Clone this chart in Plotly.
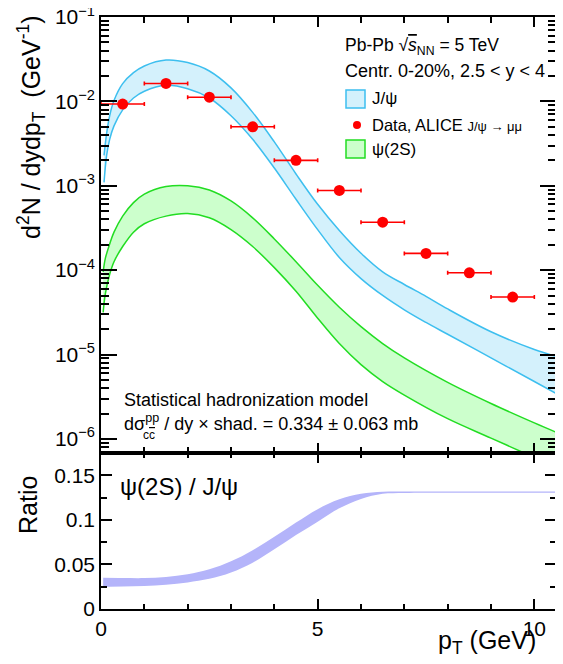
import numpy as np
import plotly.graph_objects as go

# ---------------- data ----------------
# ALICE J/psi data (Pb-Pb 5 TeV, 0-20%, 2.5<y<4)
data_pt = [0.5, 1.5, 2.5, 3.5, 4.5, 5.5, 6.5, 7.5, 8.5, 9.5]
data_pt_err = [0.5, 0.5, 0.5, 0.5, 0.5, 0.5, 0.5, 0.5, 0.5, 0.5]
data_yield = [9.3e-3, 1.63e-2, 1.12e-2, 5.0e-3, 2.0e-3, 8.8e-4, 3.7e-4, 1.58e-4, 9.3e-5, 4.8e-5]

# SHM J/psi band (log10 of dN/dydpT)
jpsi_pt = [0.07, 0.13, 0.2, 0.3, 0.5, 0.75, 1.0, 1.5, 2.0, 2.5, 3.0, 3.5, 4.0, 4.5,
           5.0, 5.5, 6.0, 6.5, 7.0, 7.5, 8.0, 9.0, 10.0, 10.5]
jpsi_hi_log10 = [-2.64, -2.38, -2.17, -1.99, -1.79, -1.66, -1.58, -1.51, -1.54, -1.64,
                 -1.84, -2.13, -2.48, -2.86, -3.22, -3.53, -3.80, -4.02, -4.17, -4.31,
                 -4.46, -4.73, -4.94, -5.02]
jpsi_lo_log10 = [-2.96, -2.64, -2.45, -2.29, -2.10, -1.96, -1.88, -1.81, -1.85, -1.96,
                 -2.17, -2.45, -2.79, -3.16, -3.52, -3.85, -4.10, -4.30, -4.47, -4.62,
                 -4.76, -5.04, -5.32, -5.46]

# SHM psi(2S) band (log10)
psi2s_pt = [0.05, 0.1, 0.2, 0.3, 0.5, 0.75, 1.0, 1.5, 2.0, 2.5, 3.0, 3.5, 4.0, 4.5,
            5.0, 5.5, 6.0, 6.5, 7.0, 8.0, 9.0, 10.0, 10.5]
psi2s_hi_log10 = [-4.02, -3.86, -3.69, -3.55, -3.36, -3.20, -3.10, -3.01, -3.00, -3.05,
                  -3.18, -3.38, -3.63, -3.90, -4.18, -4.44, -4.67, -4.87, -5.04, -5.33,
                  -5.58, -5.81, -5.92]
psi2s_lo_log10 = [-4.50, -4.28, -4.05, -3.90, -3.72, -3.55, -3.45, -3.36, -3.33, -3.38,
                  -3.52, -3.72, -3.97, -4.25, -4.57, -4.87, -5.12, -5.32, -5.48, -5.76,
                  -5.99, -6.22, -6.33]

# ratio psi(2S)/J/psi band
ratio_pt = [0.05, 0.5, 1.0, 1.5, 2.0, 2.5, 3.0, 3.5, 4.0, 4.5, 5.0, 5.5, 6.0, 6.5,
            7.0, 8.0, 9.0, 10.5]
ratio_lo = [0.025, 0.0252, 0.0258, 0.0272, 0.0298, 0.0338, 0.041, 0.052, 0.067, 0.083,
            0.098, 0.113, 0.1235, 0.1292, 0.1302, 0.1305, 0.1305, 0.1305]
ratio_hi = [0.035, 0.0348, 0.0347, 0.0360, 0.0390, 0.0445, 0.0535, 0.066, 0.081, 0.097,
            0.112, 0.123, 0.1292, 0.1315, 0.1318, 0.1318, 0.1318, 0.1318]

# axis ticks
x_major = [0, 5, 10]
x_major_text = ["0", "5", "10"]
x_minor = [1, 2, 3, 4, 6, 7, 8, 9]
y_major = [1e-6, 1e-5, 1e-4, 1e-3, 1e-2, 1e-1]
y_major_text = ["10<sup>−6</sup>", "10<sup>−5</sup>", "10<sup>−4</sup>",
                "10<sup>−3</sup>", "10<sup>−2</sup>", "10<sup>−1</sup>"]
r_major = [0, 0.05, 0.1, 0.15]
r_major_text = ["0", "0.05", "0.1", "0.15"]
r_minor = [0.025, 0.075, 0.125]

# ---------------- styles ----------------
FONT = "Liberation Sans, Arial, sans-serif"
JPSI_LINE = "#3dbfef"
JPSI_FILL = "#d4f1fc"
PSI_LINE = "#22dd22"
PSI_FILL = "#ccffcc"
RATIO_FILL = "#b4b4fa"

OFF_X, OFF_Y = 8, 6  # page offset of the rendered html
W, H = 563 - OFF_X, 664 - OFF_Y
ML, MR, MT, MB = 101 - OFF_X, 7, 15 - OFF_Y, 57
PW = W - ML - MR
PH = H - MT - MB
split = (607 - 451) / PH


def px2x(px):
    # px: screen pixel in the reference image
    return (px - OFF_X - ML) / PW


def px2y(py):
    return (H - MB - (py - OFF_Y)) / PH


y_minor = []
for e in range(-7, -1):
    for m in range(2, 10):
        y_minor.append(m * 10.0 ** e)

fig = go.Figure()

# J/psi band
fig.add_trace(go.Scatter(x=jpsi_pt, y=np.power(10.0, jpsi_lo_log10), mode="lines",
                         line=dict(color=JPSI_LINE, width=1.5, shape="spline"),
                         xaxis="x", yaxis="y", showlegend=False, hoverinfo="skip"))
fig.add_trace(go.Scatter(x=jpsi_pt, y=np.power(10.0, jpsi_hi_log10), mode="lines",
                         line=dict(color=JPSI_LINE, width=1.5, shape="spline"),
                         fill="tonexty", fillcolor=JPSI_FILL,
                         xaxis="x", yaxis="y", showlegend=False, hoverinfo="skip"))
# psi(2S) band
fig.add_trace(go.Scatter(x=psi2s_pt, y=np.power(10.0, psi2s_lo_log10), mode="lines",
                         line=dict(color=PSI_LINE, width=1.5, shape="spline"),
                         xaxis="x", yaxis="y", showlegend=False, hoverinfo="skip"))
fig.add_trace(go.Scatter(x=psi2s_pt, y=np.power(10.0, psi2s_hi_log10), mode="lines",
                         line=dict(color=PSI_LINE, width=1.5, shape="spline"),
                         fill="tonexty", fillcolor=PSI_FILL,
                         xaxis="x", yaxis="y", showlegend=False, hoverinfo="skip"))
# data
fig.add_trace(go.Scatter(x=data_pt, y=data_yield, mode="markers",
                         marker=dict(color="red", size=11, symbol="circle"),
                         error_x=dict(type="data", array=data_pt_err, color="red",
                                      thickness=1.6, width=2),
                         xaxis="x", yaxis="y", showlegend=False, hoverinfo="skip"))
# ratio band
fig.add_trace(go.Scatter(x=ratio_pt, y=ratio_lo, mode="lines",
                         line=dict(color=RATIO_FILL, width=0, shape="spline"),
                         xaxis="x2", yaxis="y2", showlegend=False, hoverinfo="skip"))
fig.add_trace(go.Scatter(x=ratio_pt, y=ratio_hi, mode="lines",
                         line=dict(color=RATIO_FILL, width=0, shape="spline"),
                         fill="tonexty", fillcolor=RATIO_FILL,
                         xaxis="x2", yaxis="y2", showlegend=False, hoverinfo="skip"))

axis_common = dict(showline=True, linecolor="black", linewidth=1.6, mirror="ticks",
                   showgrid=False, zeroline=False, ticks="inside", tickcolor="black",
                   tickwidth=1.5, automargin=False, ticklabeloverflow="allow",
                   tickfont=dict(family=FONT, size=21, color="black"))

fig.update_layout(
    width=W, height=H,
    margin=dict(l=ML, r=MR, t=MT, b=MB, pad=0, autoexpand=False),
    paper_bgcolor="white", plot_bgcolor="white",
    font=dict(family=FONT, color="black"),
    xaxis=dict(domain=[0, 1], anchor="y", range=[0, 10.5], tickmode="array",
               tickvals=x_major, showticklabels=False, ticklen=10,
               minor=dict(tickmode="array", tickvals=x_minor, ticks="inside", ticklen=6,
                          tickcolor="black", tickwidth=1.5),
               **axis_common),
    yaxis=dict(domain=[split, 1], anchor="x", type="log",
               range=[np.log10(1e-6) - 0.167, -1], tickmode="array",
               tickvals=y_major, ticktext=y_major_text, ticklen=16,
               minor=dict(tickmode="array", tickvals=y_minor, ticks="inside", ticklen=8,
                          tickcolor="black", tickwidth=1.5),
               **axis_common),
    xaxis2=dict(domain=[0, 1], anchor="y2", range=[0, 10.5], tickmode="array",
                tickvals=x_major, ticktext=x_major_text, ticklen=10,
                minor=dict(tickmode="array", tickvals=x_minor, ticks="inside", ticklen=5,
                           tickcolor="black", tickwidth=1.5),
                **axis_common),
    yaxis2=dict(domain=[0, split], anchor="x2", range=[0, 0.175], tickmode="array",
                tickvals=r_major, ticktext=r_major_text, ticklen=11,
                minor=dict(tickmode="array", tickvals=r_minor, ticks="inside", ticklen=6,
                           tickcolor="black", tickwidth=1.5),
                **axis_common),
)

ann = []


def add_text(text, px, py, size, xanchor="left", yanchor="middle", angle=0):
    ann.append(dict(text=text, x=px2x(px), y=px2y(py), xref="paper", yref="paper",
                    xanchor=xanchor, yanchor=yanchor, showarrow=False, textangle=angle,
                    font=dict(family=FONT, size=size, color="black")))


add_text("Pb-Pb √<span style='text-decoration:overline'><i>s</i></span><sub>NN</sub> = 5 TeV",
         343, 45, 17.5)
add_text("Centr. 0-20%, 2.5 &lt; y &lt; 4", 343, 69, 18)
add_text("J/ψ", 370, 97, 17)
add_text("Data, ALICE <span style='font-size:13px'>J/ψ → μμ</span>", 370, 123, 16.5)
add_text("ψ(2S)", 370, 147, 17)
add_text("Statistical hadronization model", 122, 398, 18)
add_text("dσ<sup>pp</sup> / dy × shad. = 0.334 ± 0.063 mb", 122, 421, 18)
ann.append(dict(text="c<span style='text-decoration:overline'>c</span>",
                x=px2x(141), y=px2y(433), xref="paper", yref="paper",
                xanchor="left", yanchor="middle", showarrow=False,
                font=dict(family=FONT, size=12, color="black")))
add_text("ψ(2S) / J/ψ", 118, 485, 24)
add_text("d<sup>2</sup>N / dydp<sub>T</sub>  (GeV<sup>-1</sup>)", 31, 125, 25,
         xanchor="center", yanchor="middle", angle=-90)
add_text("Ratio", 28, 503, 25, xanchor="center", yanchor="middle", angle=-90)
add_text("p<sub>T</sub> (GeV)", 538, 640, 25, xanchor="right")

fig.update_layout(annotations=ann)

shapes = [
    dict(type="rect", xref="paper", yref="paper", x0=px2x(346), x1=px2x(365),
         y0=px2y(106), y1=px2y(88), fillcolor=JPSI_FILL,
         line=dict(color=JPSI_LINE, width=1.5)),
    dict(type="rect", xref="paper", yref="paper", x0=px2x(346), x1=px2x(365),
         y0=px2y(156), y1=px2y(138), fillcolor=PSI_FILL,
         line=dict(color=PSI_LINE, width=1.5)),
    dict(type="circle", xref="paper", yref="paper", x0=px2x(353), x1=px2x(361),
         y0=px2y(127), y1=px2y(119), fillcolor="red", line=dict(color="red", width=0)),
]
fig.update_layout(shapes=shapes)

fig.write_html("out.html")
